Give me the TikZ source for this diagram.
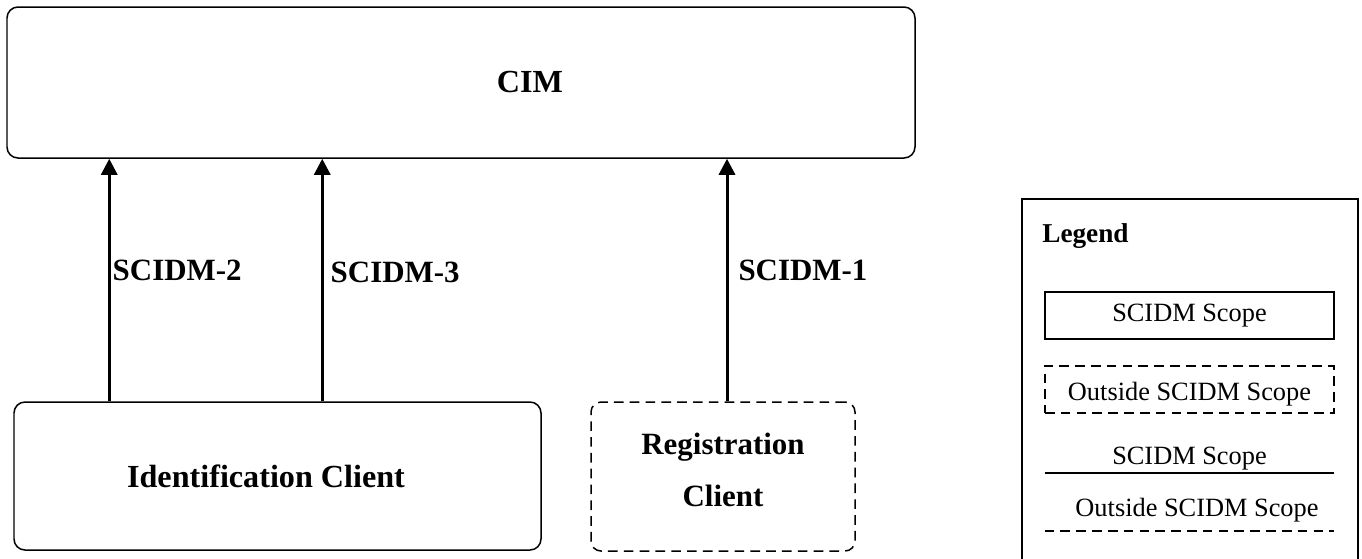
\documentclass[tikz,border=0pt]{standalone}
\usepackage{fontspec}
\setmainfont{Liberation Serif}
\usetikzlibrary{shapes,arrows,positioning,fit,arrows.meta}

\begin{document}
\begin{tikzpicture}[auto]

% Styles for boxes
\tikzstyle{box} = [rectangle, draw, line width=0.85pt, rounded corners=0.22cm, text centered, font=\fontsize{18.3}{29.5}\selectfont\bfseries]
\tikzstyle{outbox} = [box, dash pattern=on 5.5pt off 3.5pt, font=\fontsize{17.6}{29.5}\selectfont\bfseries]
\tikzstyle{iface} = [draw, line width=1.7pt, -{Triangle[width=0.32cm,length=0.32cm]}]
\tikzstyle{iflabel} = [inner sep=0, anchor=west, font=\fontsize{17.6}{21}\selectfont\bfseries]
\tikzstyle{legbox} = [rectangle, draw, line width=0.8pt, minimum width=5.78cm, minimum height=0.94cm, font=\fontsize{15}{18}\selectfont]
\tikzstyle{legline} = [rectangle, minimum width=5.78cm, anchor=south, font=\fontsize{15}{18}\selectfont]

\useasboundingbox (0,0) rectangle (27.24,-11.16);

% Nodes
\node [box, minimum width=18.16cm, minimum height=3.02cm] (cim) at (9.22,-1.65) {\hspace*{2.76cm}CIM};
\node [box, minimum width=10.54cm, minimum height=2.96cm] (ident) at (5.55,-9.52) {Identification Client\hspace*{0.46cm}};
\node [outbox, align=center, text depth=0.28cm, minimum width=5.28cm, minimum height=2.98cm, rounded corners=0.2cm] (reg) at (14.46,-9.53) {Registration\\Client};

\coordinate (p2) at ([xshift=1.92cm]ident.north west);
\coordinate (p3) at ([xshift=6.18cm]ident.north west);
\coordinate (p1) at ([xshift=0.08cm]reg.north);

% Edges
\draw[iface] (p2) -- node[iflabel, pos=0.54, xshift=0.04cm] {SCIDM-2} (p2 |- cim.south);
\draw[iface] (p3) -- node[iflabel, pos=0.53, xshift=0.14cm] {SCIDM-3} (p3 |- cim.south);
\draw[iface] (p1) -- node[iflabel, pos=0.54, xshift=0.2cm] {SCIDM-1} (p1 |- cim.south);

% Legend
\draw[line width=1pt] (20.44,-3.98) rectangle (27.16,-11.6);
\node [anchor=west, inner sep=0, font=\fontsize{15.5}{18}\selectfont\bfseries] (legend) at (20.84,-4.72) {Legend};
\node [legbox] (solidbox) at (23.79,-6.31) {SCIDM Scope};
\node [legbox, dash pattern=on 5.5pt off 3.5pt, inner sep=0, text depth=0.05cm] (dashbox) at (23.79,-7.79) {\raisebox{-0.12cm}{Outside SCIDM Scope}};
\node [legline, inner ysep=1.5pt] (solidline) at (23.79,-9.46) {SCIDM Scope};
\node [legline, inner ysep=0.17cm, xshift=0.15cm] (dashline) at (23.79,-10.62) {Outside SCIDM Scope};
\draw[line width=0.8pt] (solidline.south west) -- (solidline.south east);
\draw[line width=0.8pt, dash pattern=on 5.5pt off 3.5pt] ([xshift=-0.15cm]dashline.south west) -- ([xshift=-0.15cm]dashline.south east);

\end{tikzpicture}
\end{document}
